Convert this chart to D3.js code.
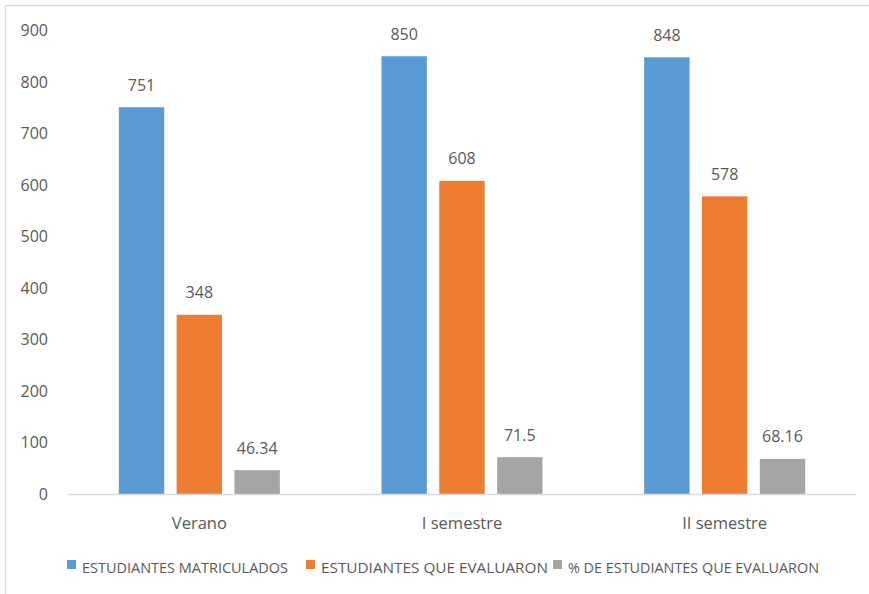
<!DOCTYPE html>
<html><head><meta charset="utf-8">
<script src="https://cdn.jsdelivr.net/npm/d3@7"></script>
<style>
body{margin:0;background:#fff;}
svg{display:block;font-family:"Open Sans","Noto Sans",sans-serif;}
</style></head>
<body><svg id="c" width="869" height="594"></svg>
<script>
const categories = ["Verano", "I semestre", "II semestre"];
const seriesNames = ["ESTUDIANTES MATRICULADOS", "ESTUDIANTES QUE EVALUARON", "% DE ESTUDIANTES QUE EVALUARON"];
const matriculados = [751, 850, 848];
const evaluaron = [348, 608, 578];
const porcentaje = [46.34, 71.5, 68.16];
const valueLabels = [["751","850","848"],["348","608","578"],["46.34","71.5","68.16"]];
const yTicks = [0,100,200,300,400,500,600,700,800,900];
const colors = ["#5B9BD5", "#ED7D31", "#A5A5A5"];

const series = [matriculados, evaluaron, porcentaje];
const svg = d3.select("#c");
const textColor = "#595959";

// outer border (top & left visible)
svg.append("line").attr("x1",5.5).attr("x2",869).attr("y1",5.5).attr("y2",5.5).attr("stroke","#d9d9d9").attr("stroke-width",1.5);
svg.append("line").attr("x1",5.5).attr("x2",5.5).attr("y1",5.5).attr("y2",594).attr("stroke","#d9d9d9").attr("stroke-width",1.5);

const x0 = d3.scaleBand().domain(categories).range([68, 856]).paddingInner(0).paddingOuter(0);
const groupW = 161;
const x1 = d3.scaleBand().domain(d3.range(3)).range([0, groupW]).paddingInner(0.215).paddingOuter(0);
const y = d3.scaleLinear().domain([0, 900]).range([494, 30.5]);

// y tick labels
svg.append("g").selectAll("text").data(yTicks).join("text")
  .attr("x", 48).attr("y", d => y(d)).attr("dy","0.35em")
  .attr("text-anchor","end").attr("font-size",16).attr("fill",textColor)
  .text(d => d);

// bars
series.forEach((vals, si) => {
  const g = svg.append("g");
  g.selectAll("rect").data(vals).join("rect")
    .attr("x", (d,i) => x0(categories[i]) + (x0.bandwidth()-groupW)/2 + x1(si))
    .attr("width", x1.bandwidth())
    .attr("y", d => y(d))
    .attr("height", d => y(0) - y(d))
    .attr("fill", colors[si]);
  g.selectAll("text").data(vals).join("text")
    .attr("x", (d,i) => x0(categories[i]) + (x0.bandwidth()-groupW)/2 + x1(si) + x1.bandwidth()/2)
    .attr("y", d => y(d) - 22).attr("dy","0.35em")
    .attr("text-anchor","middle").attr("font-size",16).attr("fill",textColor)
    .text((d,i) => valueLabels[si][i]);
});

// x axis line
svg.append("line").attr("x1",68).attr("x2",856).attr("y1",494.5).attr("y2",494.5).attr("stroke","#d9d9d9").attr("stroke-width",1.5);

// category labels
svg.append("g").selectAll("text").data(categories).join("text")
  .attr("x", d => x0(d) + x0.bandwidth()/2).attr("y", 523).attr("dy","0.35em")
  .attr("text-anchor","middle").attr("font-size",16.5).attr("fill",textColor)
  .text(d => d);

// legend
const legendX = [67, 306, 553];
const legendW = [206, 227, 251];
const lg = svg.append("g");
seriesNames.forEach((n, i) => {
  lg.append("rect").attr("x", legendX[i]).attr("y", 560).attr("width", 9).attr("height", 9).attr("fill", colors[i]);
  lg.append("text").attr("x", legendX[i] + 15).attr("y", 572.5)
    .attr("font-size", 14).attr("fill", textColor)
    .attr("textLength", legendW[i]).attr("lengthAdjust","spacingAndGlyphs")
    .text(n);
});
</script></body></html>
